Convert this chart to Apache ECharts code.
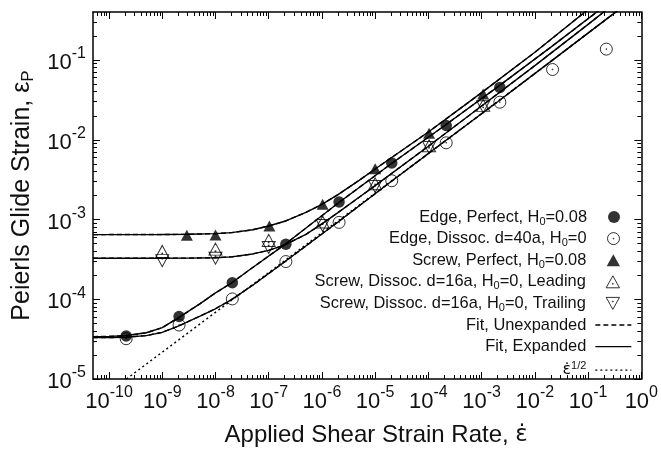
<!DOCTYPE html>
<html>
<head>
<meta charset="utf-8">
<script src="https://cdn.jsdelivr.net/npm/echarts@6/dist/echarts.min.js"></script>
<style>
  html, body { margin: 0; padding: 0; background: #fff; }
  #chart { width: 661px; height: 452px; }
</style>
</head>
<body>
<div id="chart"></div>
<script>
// measured points
const edgePerfectX = [2.1e-10, 2.07e-9, 2.07e-8, 2.1e-7, 2.1e-6, 2.05e-5, 2.16e-4, 2.2e-3];
const edgePerfectY = [3.46e-5, 6.07e-5, 1.61e-4, 4.89e-4, 1.66e-3, 5.12e-3, 1.51e-2, 4.53e-2];

const edgeDissocX = [2.1e-10, 2.07e-9, 2.07e-8, 2.1e-7, 2.1e-6, 2.05e-5, 2.16e-4, 2.2e-3, 2.15e-2, 2.2e-1];
const edgeDissocY = [3.2e-5, 4.75e-5, 1.01e-4, 2.97e-4, 9.2e-4, 3.06e-3, 9.16e-3, 2.96e-2, 7.6e-2, 1.37e-1];

const screwPerfectX = [2.9e-9, 1.0e-8, 1.03e-7, 1.03e-6, 1.0e-5, 1.03e-4, 1.07e-3];
const screwPerfectY = [6.35e-4, 6.4e-4, 8.3e-4, 1.55e-3, 4.32e-3, 1.21e-2, 3.75e-2];

const screwDissocX = [1e-9, 1e-8, 1e-7, 1.03e-6, 1.0e-5, 1.03e-4, 1.07e-3];
const screwLeadY = [3.98e-4, 4.25e-4, 5.47e-4, 9.3e-4, 2.8e-3, 8.4e-3, 2.7e-2];
const screwTrailY = [3.05e-4, 3.27e-4, 4.46e-4, 8.4e-4, 2.6e-3, 8.0e-3, 2.6e-2];

// fit curves
const screwFitX = [5e-11, 1e-9, 3e-9, 1e-8, 2e-8, 5e-8, 1e-7, 2e-7, 5e-7, 1e-6, 2e-6, 5e-6, 1e-5, 1e-4, 1e-3, 1e-2, 1e-1, 3e-1];
const screwPerfectFit = [6.47e-4, 6.48e-4, 6.52e-4, 6.65e-4, 6.84e-4, 7.43e-4, 8.3e-4, 9.5e-4, 1.23e-3, 1.55e-3, 2.05e-3, 3.1e-3, 4.3e-3, 1.25e-2, 3.9e-2, 0.125, 0.43, 0.75];
const screwDissocFit = [3.27e-4, 3.27e-4, 3.28e-4, 3.32e-4, 3.4e-4, 3.7e-4, 4.1e-4, 4.8e-4, 6.5e-4, 8.8e-4, 1.22e-3, 1.9e-3, 2.66e-3, 8.3e-3, 2.65e-2, 8.5e-2, 0.28, 0.5];

const edgeFitX = [5e-11, 1e-10, 2e-10, 5e-10, 1e-9, 2e-9, 5e-9, 1e-8, 2e-8, 5e-8, 2e-7, 2e-6, 2e-5, 2e-4, 2e-3, 2e-2, 2e-1, 4e-1];
const edgePerfectFit = [3.4e-5, 3.42e-5, 3.48e-5, 3.8e-5, 4.4e-5, 5.85e-5, 8.7e-5, 1.2e-4, 1.6e-4, 2.5e-4, 4.85e-4, 1.6e-3, 5.0e-3, 1.5e-2, 4.6e-2, 0.145, 0.47, 0.67];
const edgeDissocFit = [3.3e-5, 3.31e-5, 3.34e-5, 3.5e-5, 3.85e-5, 4.6e-5, 6.1e-5, 7.6e-5, 9.9e-5, 1.5e-4, 2.95e-4, 9.3e-4, 3.0e-3, 9.5e-3, 3.0e-2, 9.6e-2, 0.31, 0.44];

const sqrtX = [1.5e-10, 2e-8, 2e-6, 2e-4, 2e-2, 4e-1];
const sqrtY = [8.4e-6, 9.7e-5, 9.6e-4, 9.5e-3, 9.6e-2, 0.44];

// ticks
const majorX = [1e-10, 1e-9, 1e-8, 1e-7, 1e-6, 1e-5, 1e-4, 1e-3, 1e-2, 1e-1, 1];
const majorY = [1e-5, 1e-4, 1e-3, 1e-2, 1e-1];

const legendNames = [
    'Edge, Perfect, H0=0.08',
    'Edge, Dissoc. d=40a, H0=0',
    'Screw, Perfect, H0=0.08',
    'Screw, Dissoc. d=16a, H0=0, Leading',
    'Screw, Dissoc. d=16a, H0=0, Trailing',
    'Fit, Unexpanded',
    'Fit, Expanded',
    'ε̇1/2'
];

const FONT = 'Liberation Sans, Arial, Helvetica, sans-serif';
const EPS_FONT = 'DejaVu Sans, Liberation Sans, sans-serif';
const X_MIN = 5e-11, X_MAX = 1, Y_MIN = 1e-5, Y_MAX = 0.4;

function zip(xs, ys) {
    return xs.map((x, i) => [x, ys[i]]);
}

function minorTicks(lo, hi) {
    const out = [];
    for (let e = -12; e <= 1; e++) {
        for (let k = 2; k <= 9; k++) {
            const v = k * Math.pow(10, e);
            if (v > lo && v < hi) out.push(v);
        }
    }
    return out;
}

const ringDot = 'path://M10,0A10,10,0,1,1,10,20A10,10,0,1,1,10,0ZM10,9.3A0.7,0.7,0,1,1,10,10.7A0.7,0.7,0,1,1,10,9.3Z';
const triUp = 'path://M10,0L20,18L0,18Z';
const triUpDot = 'path://M10,0L20,18L0,18ZM10,11.3A0.7,0.7,0,1,1,10,12.7A0.7,0.7,0,1,1,10,11.3Z';
const triDownDot = 'path://M0,0L20,0L10,18ZM10,5.3A0.7,0.7,0,1,1,10,6.7A0.7,0.7,0,1,1,10,5.3Z';

const tickLabel = {
    fontFamily: FONT,
    color: '#111',
    formatter: v => '{b|10}{s|' + Math.round(Math.log10(v)) + '}',
    rich: {
        b: { fontFamily: FONT, fontSize: 22, lineHeight: 28, verticalAlign: 'bottom', color: '#111' },
        s: { fontFamily: FONT, fontSize: 16, lineHeight: 16, verticalAlign: 'top', color: '#111' }
    }
};

function logAxis(pos, min, max, major, isMajor, withLabel, extra) {
    return Object.assign({
        type: 'log',
        position: pos,
        min: min,
        max: max,
        axisLine: { show: isMajor, onZero: false, lineStyle: { color: '#000', width: 1.5 } },
        axisTick: {
            show: true, inside: true, length: isMajor ? 7 : 4,
            customValues: isMajor ? major : minorTicks(min, max),
            lineStyle: { color: '#000', width: 1 }
        },
        axisLabel: withLabel ? Object.assign({ customValues: major }, tickLabel) : { show: false },
        splitLine: { show: false },
        minorTick: { show: false }
    }, extra || {});
}

const xAxes = [
    logAxis('bottom', X_MIN, X_MAX, majorX, true, true, {
        name: '{t|Applied Shear Strain Rate, }{e|ε̇}',
        nameLocation: 'middle',
        nameGap: 42,
        nameTextStyle: {
            padding: [0, 0, 0, 18],
            rich: {
                t: { fontFamily: FONT, fontSize: 24, lineHeight: 28, color: '#111' },
                e: { fontFamily: EPS_FONT, fontSize: 23, lineHeight: 28, color: '#111' }
            }
        }
    }),
    logAxis('bottom', X_MIN, X_MAX, majorX, false, false),
    logAxis('top', X_MIN, X_MAX, majorX, true, false),
    logAxis('top', X_MIN, X_MAX, majorX, false, false)
];
xAxes[0].axisLabel.margin = 6;

const yAxes = [
    logAxis('left', Y_MIN, Y_MAX, majorY, true, true, {
        name: '{t|Peierls Glide Strain, ε}{sub|P}',
        nameLocation: 'middle',
        nameRotate: 90,
        nameGap: 55,
        nameTextStyle: {
            rich: {
                t: { fontFamily: FONT, fontSize: 25, lineHeight: 28, color: '#111' },
                sub: { fontFamily: FONT, fontSize: 17, lineHeight: 17, verticalAlign: 'bottom', color: '#111' }
            }
        }
    }),
    logAxis('left', Y_MIN, Y_MAX, majorY, false, false),
    logAxis('right', Y_MIN, Y_MAX, majorY, true, false),
    logAxis('right', Y_MIN, Y_MAX, majorY, false, false)
];
yAxes[0].axisLabel.margin = 7;

function legendText(n) {
    if (n.indexOf('H0') >= 0) {
        const p = n.split('H0');
        return '{t|' + p[0] + 'H}{sub|0}{t|' + p[1] + '}';
    }
    if (n === 'ε̇1/2') return '{e|ε̇}{sup|1/2}';
    return '{t|' + n + '}';
}

const legends = legendNames.map((n, i) => {
    const isLine = i >= 5;
    return {
        data: [n],
        orient: 'vertical',
        align: 'right',
        right: isLine ? 29 : 41,
        top: 209 + i * 21.6,
        padding: 0,
        itemWidth: 36,
        itemHeight: 12,
        selectedMode: false,
        itemStyle: isLine
            ? { color: 'rgba(0,0,0,0)', borderColor: 'rgba(0,0,0,0)', borderWidth: 0 }
            : { borderWidth: 1 },
        lineStyle: { width: 1.3 },
        formatter: legendText,
        textStyle: {
            fontFamily: FONT,
            fontSize: 16,
            color: '#111',
            padding: [0, 4, 0, 0],
            rich: {
                t: { fontFamily: FONT, fontSize: 16.4, lineHeight: 20, color: '#111' },
                e: { fontFamily: EPS_FONT, fontSize: 16, lineHeight: 20, color: '#111' },
                sub: { fontFamily: FONT, fontSize: 11, lineHeight: 11, verticalAlign: 'bottom', color: '#111' },
                sup: { fontFamily: FONT, fontSize: 11, lineHeight: 11, verticalAlign: 'top', color: '#111' }
            }
        }
    };
});

function fitLine(name, xs, ys, dash) {
    return {
        name: name,
        type: 'line',
        data: zip(xs, ys),
        symbol: 'none',
        silent: true,
        itemStyle: { color: '#000' },
        lineStyle: { color: '#000', width: 1.4, type: dash },
        z: 2
    };
}

const fitSets = [
    [screwFitX, screwPerfectFit],
    [screwFitX, screwDissocFit],
    [edgeFitX, edgePerfectFit],
    [edgeFitX, edgeDissocFit]
];

const series = [];
fitSets.forEach(s => series.push(fitLine('Fit, Expanded', s[0], s[1], 'solid')));
fitSets.forEach(s => series.push(fitLine('Fit, Unexpanded', s[0], s[1], [5, 3])));
series.push(fitLine('ε̇1/2', sqrtX, sqrtY, [2, 3]));

const openStyle = { color: 'rgba(0,0,0,0)', borderColor: '#000', borderWidth: 1 };
series.push(
    { name: legendNames[0], type: 'scatter', data: zip(edgePerfectX, edgePerfectY),
      symbol: 'circle', symbolSize: 11.5, itemStyle: { color: '#000' }, z: 5 },
    { name: legendNames[1], type: 'scatter', data: zip(edgeDissocX, edgeDissocY),
      symbol: ringDot, symbolSize: 12, itemStyle: openStyle, z: 5 },
    { name: legendNames[2], type: 'scatter', data: zip(screwPerfectX, screwPerfectY),
      symbol: triUp, symbolSize: [12, 11], itemStyle: { color: '#000' }, z: 5 },
    { name: legendNames[3], type: 'scatter', data: zip(screwDissocX, screwLeadY),
      symbol: triUpDot, symbolSize: [13, 12], itemStyle: openStyle, z: 5 },
    { name: legendNames[4], type: 'scatter', data: zip(screwDissocX, screwTrailY),
      symbol: triDownDot, symbolSize: [13, 12], itemStyle: openStyle, z: 5 }
);

const chart = echarts.init(document.getElementById('chart'));
chart.setOption({
    animation: false,
    backgroundColor: '#fff',
    textStyle: { fontFamily: FONT },
    grid: { left: 93, right: 18, top: 12, bottom: 64, containLabel: false },
    xAxis: xAxes,
    yAxis: yAxes,
    legend: legends,
    series: series
});
</script>
</body>
</html>
